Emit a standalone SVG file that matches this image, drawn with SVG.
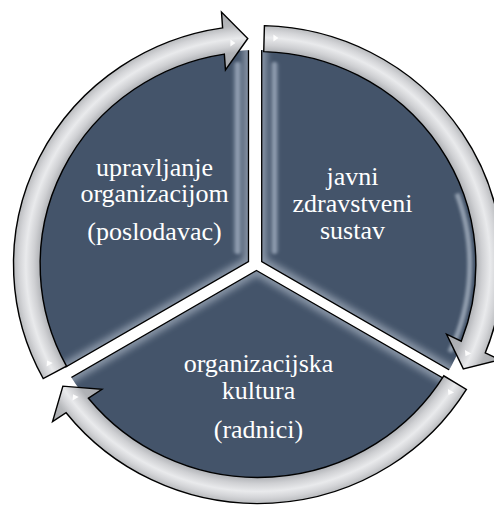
<svg xmlns="http://www.w3.org/2000/svg" width="494" height="505" viewBox="0 0 494 505">
<defs>
<style>
.sec{fill:#44546a}
.edge{fill:none;stroke:#000;stroke-width:1.3;stroke-linejoin:miter}
.glow{fill:none;stroke:#e3ebf5;stroke-width:10;opacity:.45}
.arrow{fill:url(#ringGrad);stroke:#000;stroke-width:1.4;stroke-linejoin:miter}
.speck{fill:#fff;opacity:.9}
.label{font-size:26px;fill:#fff;text-anchor:middle}
</style>
<radialGradient id="ringGrad" gradientUnits="userSpaceOnUse" cx="0" cy="0" r="255">
<stop offset="0" stop-color="#9fa1a5"/>
<stop offset="0.76" stop-color="#a6a8ac"/>
<stop offset="0.835" stop-color="#b0b2b6"/>
<stop offset="0.86" stop-color="#cfd0d3"/>
<stop offset="0.89" stop-color="#e9eaec"/>
<stop offset="0.915" stop-color="#d3d4d7"/>
<stop offset="0.94" stop-color="#b6b8bb"/>
<stop offset="1" stop-color="#a6a8ac"/>
</radialGradient>
<linearGradient id="stripe" x1="0" x2="1" y1="0" y2="0">
<stop offset="0" stop-color="#b7c4d6" stop-opacity="0"/>
<stop offset="0.5" stop-color="#c3cfdf" stop-opacity="0.7"/>
<stop offset="1" stop-color="#b7c4d6" stop-opacity="0"/>
</linearGradient>
<clipPath id="disc"><ellipse cx="258" cy="264.5" rx="219.5" ry="214.5"/></clipPath>
<clipPath id="clipL"><polygon points="248.5,261.5 248.5,-10 -40,-10 -40,428.1"/></clipPath>
<clipPath id="clipR"><polygon points="261.7,261.5 261.7,-10 540,-10 540,422.2"/></clipPath>
<clipPath id="clipB"><polygon points="256.5,270.5 560,445.7 560,560 -50,560 -50,447.5"/></clipPath>
<filter id="blur3" x="-20%" y="-20%" width="140%" height="140%"><feGaussianBlur stdDeviation="3.5"/></filter>
<filter id="blur1" x="-50%" y="-10%" width="200%" height="120%"><feGaussianBlur stdDeviation="1.6"/></filter>
</defs>
<rect width="494" height="505" fill="#fff"/>

<g id="node-upravljanje">
<g clip-path="url(#disc)">
<polygon class="sec" points="248.5,261.5 248.5,-10 -40,-10 -40,428.1"/>
<g clip-path="url(#clipL)">
<polyline class="glow" filter="url(#blur3)" points="248.5,-10 248.5,261.5 -40,428.1"/>
<rect x="232" y="62" width="11" height="192" rx="5" fill="url(#stripe)" filter="url(#blur1)"/>
</g>
<polygon class="edge" points="248.5,261.5 248.5,-10 -40,-10 -40,428.1"/>
</g>
<text class="label" font-family="Liberation Serif, Tinos, DejaVu Serif, Times New Roman, serif" x="154.5" y="175.7">upravljanje</text>
<text class="label" font-family="Liberation Serif, Tinos, DejaVu Serif, Times New Roman, serif" x="154.5" y="202.3">organizacijom</text>
<text class="label" font-family="Liberation Serif, Tinos, DejaVu Serif, Times New Roman, serif" x="154.5" y="240">(poslodavac)</text>
</g>

<g id="node-javni">
<g clip-path="url(#disc)">
<polygon class="sec" points="261.7,261.5 261.7,-10 540,-10 540,422.2"/>
<g clip-path="url(#clipR)">
<polyline class="glow" filter="url(#blur3)" points="261.7,-10 261.7,261.5 540,422.2"/>
<rect x="269.5" y="62" width="10" height="192" rx="5" fill="url(#stripe)" filter="url(#blur1)"/>
<path d="M457,193.7 A211.8,207 0 0 1 449.9,352" fill="none" stroke="#dfe8f3" stroke-width="5" opacity="0.5" filter="url(#blur1)"/>
</g>
<polygon class="edge" points="261.7,261.5 261.7,-10 540,-10 540,422.2"/>
</g>
<text class="label" font-family="Liberation Serif, Tinos, DejaVu Serif, Times New Roman, serif" x="352.5" y="185">javni</text>
<text class="label" font-family="Liberation Serif, Tinos, DejaVu Serif, Times New Roman, serif" x="352.5" y="212">zdravstveni</text>
<text class="label" font-family="Liberation Serif, Tinos, DejaVu Serif, Times New Roman, serif" x="352.5" y="239">sustav</text>
</g>

<g id="node-kultura">
<g clip-path="url(#disc)">
<polygon class="sec" points="256.5,270.5 560,445.7 560,560 -50,560 -50,447.5"/>
<g clip-path="url(#clipB)">
<polyline class="glow" filter="url(#blur3)" points="-50,447.5 256.5,270.5 560,445.7"/>
</g>
<polygon class="edge" points="256.5,270.5 560,445.7 560,560 -50,560 -50,447.5"/>
</g>
<text class="label" font-family="Liberation Serif, Tinos, DejaVu Serif, Times New Roman, serif" x="258.5" y="371.7">organizacijska</text>
<text class="label" font-family="Liberation Serif, Tinos, DejaVu Serif, Times New Roman, serif" x="258.5" y="399.3">kultura</text>
<text class="label" font-family="Liberation Serif, Tinos, DejaVu Serif, Times New Roman, serif" x="258.5" y="437.5">(radnici)</text>
</g>

<g id="connectors" transform="translate(258,264.5) scale(1.023,1)">
<g id="arrow-1">
<path class="arrow" d="M-210,114 A239,239 0 0 1 -34.6,-236.6 L-35.7,-252.5 L-10,-226 L-31.8,-194.5 L-32.9,-210.4 A213,213 0 0 0 -187.2,101.6 Z"/>
<polygon class="speck" points="-27,-225 -22,-221.5 -27,-218"/>
<polygon class="speck" transform="rotate(-120)" points="15,-230 20,-226.5 15,-223"/>
</g>
<g id="arrow-2" transform="rotate(120)">
<path class="arrow" d="M-210,114 A239,239 0 0 1 -34.6,-236.6 L-35.7,-252.5 L-10,-226 L-31.8,-194.5 L-32.9,-210.4 A213,213 0 0 0 -187.2,101.6 Z"/>
<polygon class="speck" points="-27,-225 -22,-221.5 -27,-218"/>
<polygon class="speck" transform="rotate(-120)" points="15,-230 20,-226.5 15,-223"/>
</g>
<g id="arrow-3" transform="rotate(240)">
<path class="arrow" d="M-210,114 A239,239 0 0 1 -34.6,-236.6 L-35.7,-252.5 L-10,-226 L-31.8,-194.5 L-32.9,-210.4 A213,213 0 0 0 -187.2,101.6 Z"/>
<polygon class="speck" points="-27,-225 -22,-221.5 -27,-218"/>
<polygon class="speck" transform="rotate(-120)" points="15,-230 20,-226.5 15,-223"/>
</g>
</g>
</svg>
